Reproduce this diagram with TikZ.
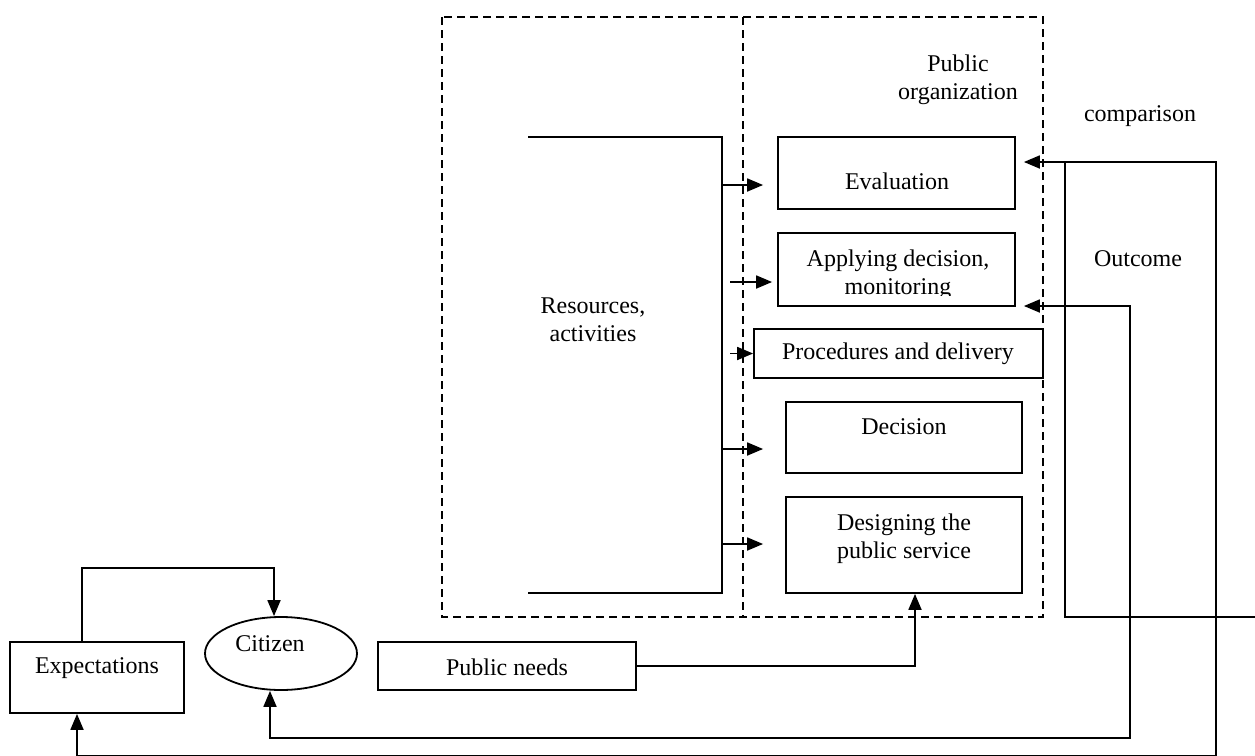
\documentclass[tikz,border=0pt]{standalone}
\usepackage{fontspec}
\setmainfont{Liberation Serif}
\usetikzlibrary{arrows.meta,calc,shapes.geometric}
\begin{document}
\begin{tikzpicture}[x=0.5pt,y=-0.5pt,
  every node/.style={font=\fontsize{12}{13.8}\selectfont},
  box/.style={draw,line width=0.9pt,inner sep=0pt,rectangle},
  oval/.style={draw,line width=0.9pt,inner sep=0pt,ellipse},
  ln/.style={line width=0.9pt},
  dashedline/.style={line width=0.8pt,dash pattern=on 4pt off 2.5pt},
  arr/.style={line width=0.9pt,-{Triangle[length=8pt,width=6.5pt]}},
  dbl/.style={line width=0.9pt,{Triangle[length=8pt,width=6.5pt]}-{Triangle[length=8pt,width=6.5pt]}}]
\useasboundingbox (0,0) rectangle (1255,756);
\fill[white] (0,0) rectangle (1255,756);

% dashed frame
\draw[dashedline] (442,17) rectangle (1043,617);
\draw[dashedline] (743,17) -- (743,617);

% boxes
\node[box,minimum width=118.5pt,minimum height=36pt] (eval) at (896.5,173) {};
\node[box,minimum width=118.5pt,minimum height=36.5pt] (apply) at (896.5,269.5) {};
\node[box,minimum width=144.5pt,minimum height=24.5pt] (proc) at (898.5,353.5) {};
\node[box,minimum width=118pt,minimum height=35.5pt] (dec) at (904,437.5) {};
\node[box,minimum width=118pt,minimum height=48pt] (design) at (904,545) {};
\node[box,minimum width=87pt,minimum height=35.5pt] (expect) at (97,677.5) {};
\node[oval,minimum width=76pt,minimum height=36.5pt] (citizen) at (281,653.5) {};
\node[box,minimum width=129pt,minimum height=24pt] (pneeds) at (507,666) {};

% texts
\node (tEval) at (897,181) {Evaluation};
\begin{scope}
\clip (778,233) rectangle (1015,295);
\node[align=center] (tApply) at (898,275) {Applying decision,\\monitoring};
\end{scope}
\node (tProc) at (898,354) {Procedures and delivery};
\node (tDec) at (904,427) {Decision};
\node[align=center] (tDesign) at (904,538.5) {Designing the\\public service};
\node[align=center] (tRes) at (593,320) {Resources,\\activities};
\node[align=center] (tOrg) at (958,80) {Public\\organization};
\node (tComp) at (1140,116) {comparison};
\node (tOut) at (1138,259) {Outcome};
\node (tExp) at (97,668) {Expectations};
\node (tCit) at (270,644) {Citizen};
\node (tNeeds) at (507,667) {Public needs};

% bracket of resources
\coordinate (brTop) at (528,137);
\coordinate (brBot) at (528,593);
\draw[ln] (brTop) -- (722,137) -- (722,593) -- (brBot);
\draw[arr] (722,185) -- ($(eval.west)+(-14,12)$);
\draw[arr] (730,282) -- ($(apply.west)+(-5,12.5)$);
\draw[arr] (730,353.5) -- (proc.west);
\draw[arr] (722,449) -- ($(dec.west)+(-22,11.5)$);
\draw[arr] (722,544) -- ($(design.west)+(-22,-1)$);

% feedback loops
\draw[dbl] ($(eval.east)+(8,-11)$) -- (1216,162) -- (1216,755.5) -| ($(expect.south)+(-20,0)$);
\draw[dbl] ($(apply.east)+(8,36.5)$) -- (1130,306) -- (1130,738) -| ($(citizen.south)+(-11,0)$);
\draw[ln] (1065,162) -- (1065,617) -- (1255,617);
\draw[arr] (pneeds.east) -| ($(design.south)+(11,0)$);
\draw[arr] ($(expect.north)+(-15,0)$) -- ++(0,-73) -| ($(citizen.north)+(-7,0)$);
\end{tikzpicture}
\end{document}
